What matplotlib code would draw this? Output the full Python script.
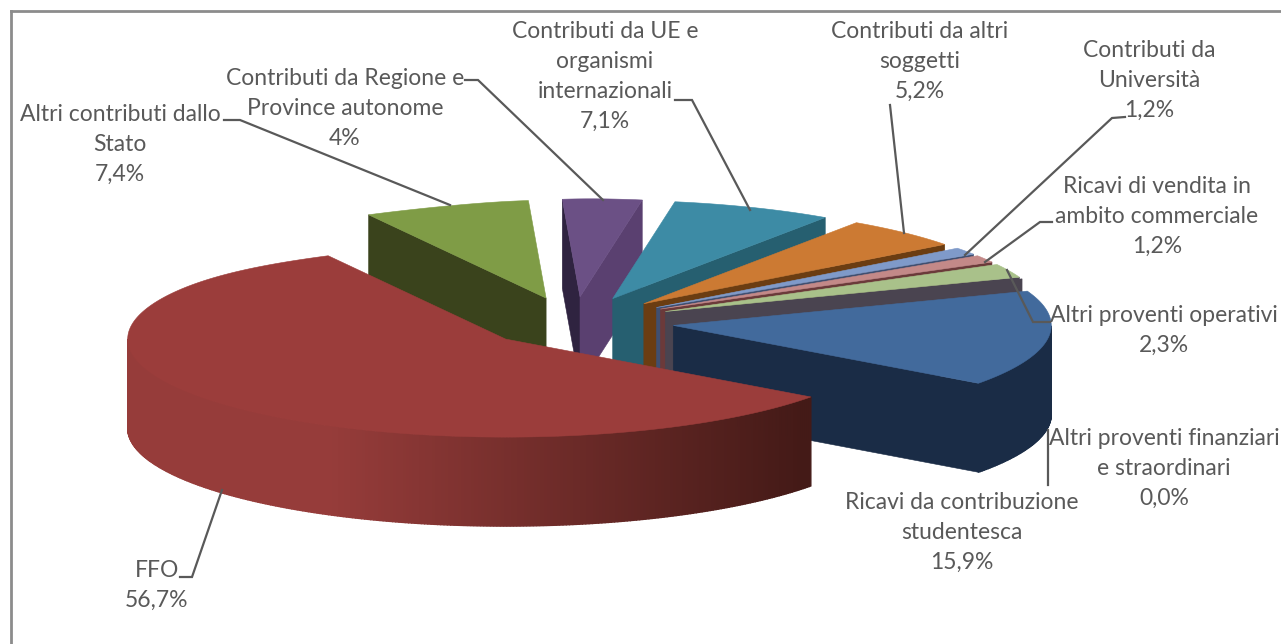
import numpy as np
import matplotlib
matplotlib.use('Agg')
import matplotlib.pyplot as plt
from matplotlib.colors import to_rgb
from matplotlib.patches import Polygon

# chart data, clockwise from the start angle
names = ['Ricavi da contribuzione\nstudentesca', 'FFO', 'Altri contributi dallo\nStato',
         'Contributi da Regione e\nProvince autonome', 'Contributi da UE e\norganismi\ninternazionali',
         'Contributi da altri\nsoggetti', 'Contributi da\nUniversità',
         'Ricavi di vendita in\nambito commerciale', 'Altri proventi operativi',
         'Altri proventi finanziari\ne straordinari']
values = [15.9, 56.7, 7.4, 4.0, 7.1, 5.2, 1.2, 1.2, 2.3, 0.0]
value_labels = ['15,9%', '56,7%', '7,4%', '4%', '7,1%', '5,2%', '1,2%', '1,2%', '2,3%', '0,0%']

top_colors = ['#426a9c', '#9b3d3b', '#7f9c46', '#6b5085', '#3d8ba5', '#cc7a33', '#7f9ac9', '#c38988', '#a9c18a', '#4a4450']
wall_colors = ['#1a2c46', '#9b3d3b', '#3a431c', '#5a4070', '#265f70', '#6b3d12', '#404f70', '#6b3a3a', '#4a4450', '#4a4450']
start_colors = {3: '#2f2340'}

# pie geometry in pixels
W, H = 1281, 644
cx, cy = 577, 322
rx, ry = 378, 98
depth = 89
explode = 0.257
start_angle = 69.5

# label centre x, first line y
label_pos = [(962, 503), (157, 571), (120, 115), (345, 79), (605, 32),
             (920, 32), (1149, 51), (1157, 187), (1164, 316), (1164, 439)]
leaders = [[(1048, 430), (1048, 485)],
           [(180, 577), (192, 577), (222, 490)],
           [(224, 120), (240, 120), (450, 205)],
           [(465, 80), (478, 80), (603, 200)],
           [(675, 100), (692, 100), (750, 210)],
           [(890, 105), (904, 233)],
           [(1125, 117), (1112, 118), (965, 255)],
           [(1052, 222), (1040, 222), (985, 262)],
           [(1050, 322), (1033, 322), (1007, 270)]]

fig = plt.figure(figsize=(W / 100, H / 100), dpi=100)
ax = fig.add_axes([0, 0, 1, 1])
ax.set_xlim(0, W)
ax.set_ylim(H, 0)
ax.axis('off')

fracs = np.array(values) / sum(values) * 360
ends = start_angle + np.cumsum(fracs)
starts = ends - fracs


def rim(apex, deg):
    t = np.radians(deg)
    # the view pulls the back left part of the rim inwards
    off = (deg - 340 + 180) % 360 - 180
    pull = 30 * np.exp(-(off / 20) ** 2)
    return apex[0] + rx * np.sin(t) + pull, apex[1] - ry * np.cos(t)


def quad(p, q, color, z, lw=0.4):
    pts = [p, q, (q[0], q[1] + depth), (p[0], p[1] + depth)]
    ax.add_patch(Polygon(pts, closed=True, fc=color, ec=color, lw=lw, zorder=z))


apexes = []
for a, b in zip(starts, ends):
    mid = np.radians((a + b) / 2)
    apexes.append((cx + explode * rx * np.sin(mid), cy - explode * ry * np.cos(mid)))

order = np.argsort([p[1] for p in apexes])
z = 2.0
for i in order:
    apex, a, b = apexes[i], starts[i], ends[i]
    # radial walls, only those turned to the viewer
    if np.sin(np.radians(a)) < 0:
        quad(rim(apex, a), apex, start_colors.get(i, wall_colors[i]), z)
        z += 0.001
    if np.sin(np.radians(b)) > 0:
        quad(apex, rim(apex, b), wall_colors[i], z)
        z += 0.001
    # outer wall
    arc = np.linspace(a, b, max(2, int((b - a) * 2)))
    for d0, d1 in zip(arc[:-1], arc[1:]):
        if np.cos(np.radians((d0 + d1) / 2)) < 0:
            p, q = rim(apex, d0), rim(apex, d1)
            col = wall_colors[i]
            if names[i] == 'FFO':
                mix = np.interp((p[0] + q[0]) / 2, [330, 800], [0, 1])
                col = tuple((1 - mix) * np.array(to_rgb('#963c3a')) + mix * np.array(to_rgb('#441a17')))
            quad(p, q, col, z, lw=1.0)
            z += 0.001
    # top
    if values[i] > 0:
        pts = [apex] + [rim(apex, d) for d in arc]
        ax.add_patch(Polygon(pts, closed=True, fc=top_colors[i], ec=top_colors[i], lw=0.4, zorder=z))
        z += 0.001

for line in leaders:
    xs, ys = zip(*line)
    ax.plot(xs, ys, color='#595959', lw=1.6, zorder=20, solid_joinstyle='miter')

for name, val, (x, y) in zip(names, value_labels, label_pos):
    ax.text(x, y - 11, name + '\n' + val, ha='center', va='top', family='Lato', fontsize=16.5,
            color='#595959', linespacing=1.52, zorder=30)

# frame: top and left only reach the picture edge
ax.plot([11, 11], [H, 11], color='#8c8c8c', lw=2, zorder=1)
ax.plot([11, W], [11, 11], color='#8c8c8c', lw=2, zorder=1)

fig.savefig('out.png', dpi=100)
